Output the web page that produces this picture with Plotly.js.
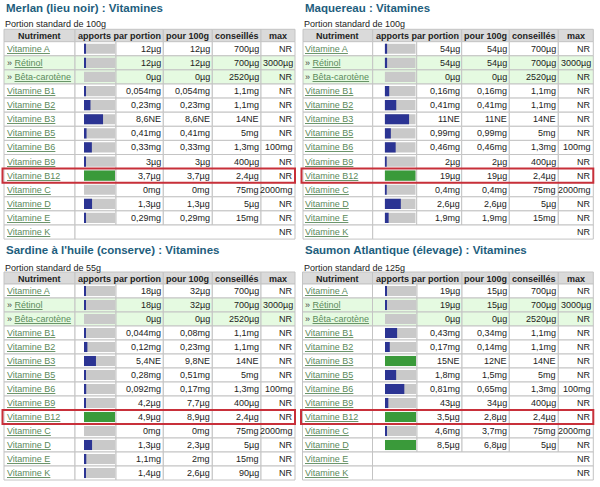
<!DOCTYPE html>
<html>
<head>
<meta charset="utf-8">
<script src="https://cdn.plot.ly/plotly-3.0.1.min.js"></script>
<style>
body { margin: 0; background: #fff; }
#chart { width: 600px; height: 487px; }
</style>
</head>
<body>
<div id="chart"></div>
<script>
// lignes du tableau (communes aux 4 poissons)
var nutriments = ['Vitamine A', 'Rétinol', 'Bêta-carotène', 'Vitamine B1', 'Vitamine B2', 'Vitamine B3',
	'Vitamine B5', 'Vitamine B6', 'Vitamine B9', 'Vitamine B12', 'Vitamine C', 'Vitamine D', 'Vitamine E', 'Vitamine K'];
var sousLignes = ['Rétinol', 'Bêta-carotène'];
var conseilles = ['700µg', '700µg', '2520µg', '1,1mg', '1,1mg', '14NE', '5mg', '1,3mg', '400µg', '2,4µg', '75mg', '5µg', '15mg', '90µg'];
var maximum = ['NR', '3000µg', 'NR', 'NR', 'NR', 'NR', 'NR', '100mg', 'NR', 'NR', '2000mg', 'NR', 'NR', 'NR'];
var entetes = ['Nutriment', 'apports par portion', 'pour 100g', 'conseillés', 'max'];

var merlanPortion = ['12µg', '12µg', '0µg', '0,054mg', '0,23mg', '8,6NE', '0,41mg', '0,33mg', '3µg', '3,7µg', '0mg', '1,3µg', '0,29mg', null];
var merlan100 = ['12µg', '12µg', '0µg', '0,054mg', '0,23mg', '8,6NE', '0,41mg', '0,33mg', '3µg', '3,7µg', '0mg', '1,3µg', '0,29mg', null];

var maquereauPortion = ['54µg', '54µg', '0µg', '0,16mg', '0,41mg', '11NE', '0,99mg', '0,46mg', '2µg', '19µg', '0,4mg', '2,6µg', '1,9mg', null];
var maquereau100 = ['54µg', '54µg', '0µg', '0,16mg', '0,41mg', '11NE', '0,99mg', '0,46mg', '2µg', '19µg', '0,4mg', '2,6µg', '1,9mg', null];

var sardinePortion = ['18µg', '18µg', '0µg', '0,044mg', '0,12mg', '5,4NE', '0,28mg', '0,092mg', '4,2µg', '4,9µg', '0mg', '1,3µg', '1,1mg', '1,4µg'];
var sardine100 = ['32µg', '32µg', '0µg', '0,08mg', '0,23mg', '9,8NE', '0,51mg', '0,17mg', '7,7µg', '8,9µg', '0mg', '2,3µg', '2mg', '2,6µg'];

var saumonPortion = ['19µg', '19µg', '0µg', '0,43mg', '0,17mg', '15NE', '1,8mg', '0,81mg', '43µg', '3,5µg', '4,6mg', '8,5µg', null, null];
var saumon100 = ['15µg', '15µg', '0µg', '0,34mg', '0,14mg', '12NE', '1,5mg', '0,65mg', '34µg', '2,8µg', '3,7mg', '6,8µg', null, null];

var panneaux = [
	{ titre: 'Merlan (lieu noir) : Vitamines', portion: 'Portion standard de 100g', parPortion: merlanPortion, pour100: merlan100,
	  cols: [4, 75, 116, 163.3, 212.3, 261, 295], titreY: 7.5, portionY: 24, enteteY: 29.3, lignesY: 41.7, h: 14.1 },
	{ titre: 'Maquereau : Vitamines', portion: 'Portion standard de 100g', parPortion: maquereauPortion, pour100: maquereau100,
	  cols: [303, 372.7, 416.7, 461.7, 509.3, 558.3, 593.3], titreY: 7.5, portionY: 24, enteteY: 29.3, lignesY: 41.7, h: 14.1 },
	{ titre: "Sardine à l'huile (conserve) : Vitamines", portion: 'Portion standard de 55g', parPortion: sardinePortion, pour100: sardine100,
	  cols: [4, 75, 116, 163.3, 212.3, 261, 295], titreY: 250, portionY: 267.5, enteteY: 272, lignesY: 284, h: 14 },
	{ titre: 'Saumon Atlantique (élevage) : Vitamines', portion: 'Portion standard de 125g', parPortion: saumonPortion, pour100: saumon100,
	  cols: [302.5, 372.5, 417, 462, 509.3, 558.3, 593.3], titreY: 250, portionY: 267.5, enteteY: 272, lignesY: 284, h: 14 }
];

var W = 600, H = 487;
function X(px) { return px / W; }
function Y(py) { return 1 - py / H; }
function nombre(s) { return parseFloat(s.replace(',', '.')); }

var police = 'Liberation Sans, Arial, sans-serif';
var couleurLien = '#5b8a5b';
var couleurBord = '#c4c4c4';

var shapes = [];
var annotations = [];
var data = [];
var layout = {
	width: W,
	height: H,
	margin: { l: 0, r: 0, t: 0, b: 0 },
	paper_bgcolor: '#ffffff',
	plot_bgcolor: 'rgba(0,0,0,0)',
	showlegend: false,
	barmode: 'overlay',
	hovermode: false
};

function cellule(x0, x1, y0, y1, fond) {
	shapes.push({
		type: 'rect', xref: 'paper', yref: 'paper', layer: 'below',
		x0: X(x0), x1: X(x1), y0: Y(y1), y1: Y(y0),
		fillcolor: fond,
		line: { color: couleurBord, width: 1 }
	});
}

function texte(t, x, y, ancre, taille, couleur, gras) {
	annotations.push({
		text: gras ? '<b>' + t + '</b>' : t,
		xref: 'paper', yref: 'paper',
		x: X(x), y: Y(y),
		xanchor: ancre, yanchor: 'middle',
		showarrow: false,
		borderpad: 0,
		font: { family: police, size: taille, color: couleur }
	});
}

panneaux.forEach(function(p, k) {
	var c = p.cols;
	var haut = p.enteteY, bas = p.lignesY;

	texte(p.titre, c[0] + 1, p.titreY, 'left', 11.5, '#1e5e7d', true);
	texte(p.portion, c[0], p.portionY, 'left', 9, '#222', false);

	// entete
	var bornes = [[c[0], c[1]], [c[1], c[3]], [c[3], c[4]], [c[4], c[5]], [c[5], c[6]]];
	bornes.forEach(function(b, j) {
		cellule(b[0], b[1], haut, bas, '#dadada');
		texte(entetes[j], (b[0] + b[1]) / 2, (haut + bas) / 2 + 0.5, 'center', 9, '#222', true);
	});

	var gris = [], valeurs = [], couleurs = [], rangs = [];
	nutriments.forEach(function(nom, i) {
		var y0 = p.lignesY + i * p.h, y1 = y0 + p.h, ym = (y0 + y1) / 2;
		var sous = sousLignes.indexOf(nom) >= 0;
		var fond = sous ? '#e5fae1' : '#ffffff';
		var v = p.parPortion[i];

		if (v !== null) {
			[[c[0], c[1]], [c[1], c[2]], [c[2], c[3]], [c[3], c[4]], [c[4], c[5]], [c[5], c[6]]].forEach(function(b) {
				cellule(b[0], b[1], y0, y1, fond);
			});
			texte(v, c[3] - 1, ym, 'right', 9, '#222', false);
			texte(p.pour100[i], c[4] - 1, ym, 'right', 9, '#222', false);
			texte(conseilles[i], c[5] - 1, ym, 'right', 9, '#222', false);
			texte(maximum[i], c[6] - 1, ym, 'right', 9, '#222', false);

			var frac = nombre(v) / nombre(conseilles[i]);
			if (frac > 0) frac = Math.max(frac, 0.065);
			gris.push(1);
			valeurs.push(Math.min(frac, 1));
			couleurs.push(frac >= 1 ? '#3a9a3a' : '#2b3493');
			rangs.push(i);
		} else {
			cellule(c[0], c[1], y0, y1, fond);
			cellule(c[1], c[6], y0, y1, fond);
			texte(maximum[i], c[6] - 1, ym, 'right', 9, '#222', false);
		}

		var lib = sous ? '<span style="color:#444">»</span> <u>' + nom + '</u>' : '<u>' + nom + '</u>';
		texte(lib, c[0] + 1.5, ym, 'left', 9, couleurLien, false);

		if (nom === 'Vitamine B12') {
			shapes.push({
				type: 'rect', xref: 'paper', yref: 'paper', layer: 'above',
				x0: X(c[0] - 1.5), x1: X(c[6]), y0: Y(y1), y1: Y(y0),
				fillcolor: 'rgba(0,0,0,0)',
				line: { color: '#c8303a', width: 2 }
			});
		}
	});

	// barres dans la colonne "apports par portion"
	var suffixe = k === 0 ? '' : String(k + 1);
	layout['xaxis' + suffixe] = {
		domain: [X(c[2] - 32), X(c[2] - 1)],
		range: [0, 1],
		anchor: 'y' + suffixe,
		visible: false,
		fixedrange: true
	};
	layout['yaxis' + suffixe] = {
		domain: [Y(p.lignesY + 14 * p.h), Y(p.lignesY)],
		range: [13.5, -0.5],
		anchor: 'x' + suffixe,
		visible: false,
		fixedrange: true
	};
	data.push({
		type: 'bar', orientation: 'h',
		x: gris, y: rangs, width: 0.72,
		xaxis: 'x' + suffixe, yaxis: 'y' + suffixe,
		marker: { color: '#c9c9c9' },
		hoverinfo: 'skip'
	});
	data.push({
		type: 'bar', orientation: 'h',
		x: valeurs, y: rangs, width: 0.72,
		xaxis: 'x' + suffixe, yaxis: 'y' + suffixe,
		marker: { color: couleurs },
		hoverinfo: 'skip'
	});
});

layout.shapes = shapes;
layout.annotations = annotations;

var config = {
	displayModeBar: false,
	staticPlot: true
};
Plotly.newPlot(document.getElementById('chart'), data, layout, config);
</script>
</body>
</html>
